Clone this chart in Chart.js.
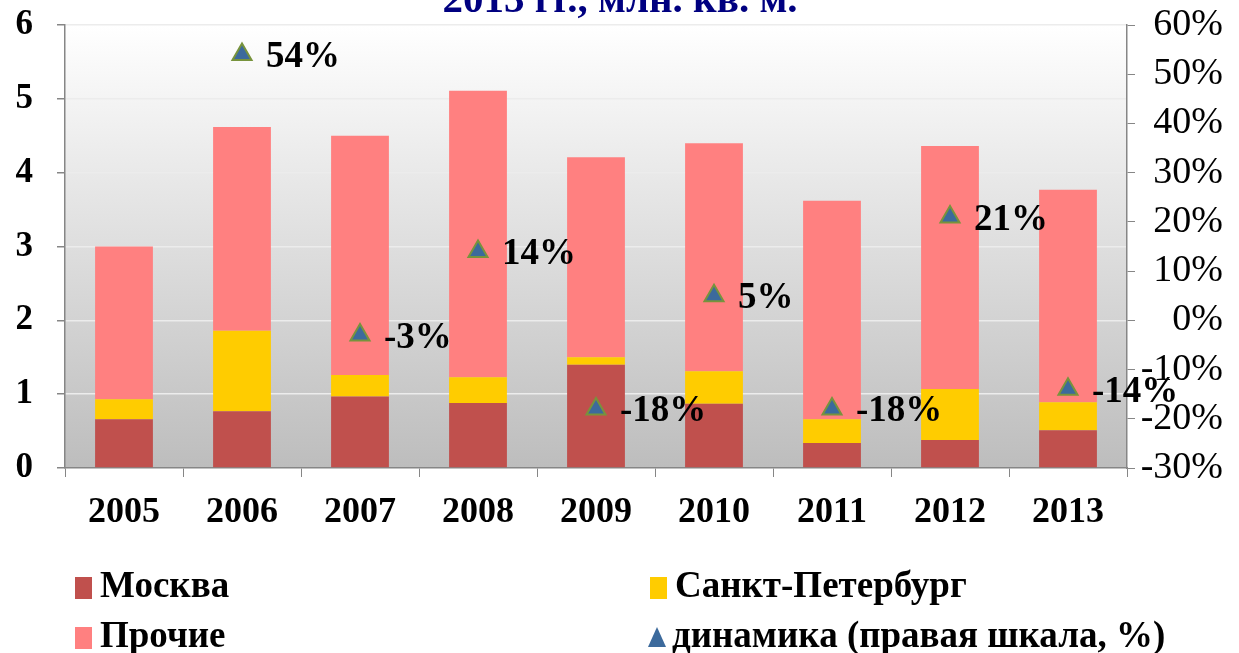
<!DOCTYPE html>
<html>
<head>
<meta charset="utf-8">
<script src="https://cdn.jsdelivr.net/npm/chart.js@4/dist/chart.umd.min.js"></script>
<style>
    body { margin: 0; background: #fff; }
    #wrap { position: relative; width: 1239px; height: 653px; overflow: hidden; }
    #legend { position: absolute; left: 0; top: 0; width: 1239px; height: 653px; pointer-events: none;
        font-family: "Liberation Serif", serif; font-weight: bold; font-size: 37px; color: #000; }
    .item { position: absolute; white-space: nowrap; line-height: 40px; }
    .box { display: inline-block; width: 17px; height: 22px; margin-right: 8px; vertical-align: -2px; }
    .tri { display: inline-block; width: 0; height: 0; margin-right: 6px; vertical-align: 0px;
        border-left: 9px solid transparent; border-right: 9px solid transparent; border-bottom: 20px solid #3C6A9C; }
</style>
</head>
<body>
<div id="wrap">
    <canvas id="chart" width="1239" height="653"></canvas>
    <div id="legend"></div>
</div>
<script>
var years = ["2005", "2006", "2007", "2008", "2009", "2010", "2011", "2012", "2013"];
var moscow = [0.66, 0.77, 0.97, 0.88, 1.40, 0.87, 0.34, 0.38, 0.51];
var spb = [0.27, 1.09, 0.29, 0.35, 0.10, 0.44, 0.32, 0.69, 0.38];
var others = [2.07, 2.76, 3.24, 3.88, 2.71, 3.09, 2.96, 3.29, 2.88];
var dynamics = [null, 54, -3, 14, -18, 5, -18, 21, -14];
var leftTicks = [0, 1, 2, 3, 4, 5, 6];
var rightTicks = [-30, -20, -10, 0, 10, 20, 30, 40, 50, 60];
var seriesNames = ["Москва", "Санкт-Петербург", "Прочие", "динамика (правая шкала, %)"];
var titleText = "2013 гг., млн. кв. м.";

var axisGray = "#868686";
var serif = "'Liberation Serif', 'Times New Roman', serif";

// gray gradient behind the plot
var plotBackground = {
    id: "plotBackground",
    beforeDraw: function(chart){
        var a = chart.chartArea, ctx = chart.ctx;
        var g = ctx.createLinearGradient(0, a.top, 0, a.bottom);
        g.addColorStop(0, "#ffffff");
        g.addColorStop(1, "#bdbdbd");
        ctx.save();
        ctx.fillStyle = g;
        ctx.fillRect(a.left, a.top, a.right - a.left, a.bottom - a.top);
        ctx.restore();
    },
    afterDraw: function(chart){
        // remains of the title, cut by the top edge
        var ctx = chart.ctx;
        ctx.save();
        ctx.font = "bold 41px " + serif;
        ctx.fillStyle = "#000080";
        ctx.textAlign = "center";
        ctx.textBaseline = "alphabetic";
        ctx.fillText(titleText, 620, 12);
        ctx.restore();
    }
};

var pointLabels = {
    id: "pointLabels",
    afterDatasetsDraw: function(chart){
        var ctx = chart.ctx;
        var meta = chart.getDatasetMeta(3);
        ctx.save();
        ctx.font = "bold 37px " + serif;
        ctx.fillStyle = "#000";
        ctx.textAlign = "left";
        ctx.textBaseline = "middle";
        meta.data.forEach(function(pt, i){
            if (dynamics[i] === null) return;
            ctx.fillText(dynamics[i] + "%", pt.x + 24, pt.y + 3);
        });
        ctx.restore();
    }
};

function noPadY(s, w){
    s.width = w;
    s.paddingTop = 0;
    s.paddingBottom = 0;
}

var data = {
    labels: years,
    datasets: [
        { type: "bar", label: seriesNames[0], data: moscow, backgroundColor: "#C0504D", yAxisID: "y", order: 1 },
        { type: "bar", label: seriesNames[1], data: spb, backgroundColor: "#FFCC00", yAxisID: "y", order: 1 },
        { type: "bar", label: seriesNames[2], data: others, backgroundColor: "#FF8080", yAxisID: "y", order: 1 },
        { type: "line", label: seriesNames[3], data: dynamics, yAxisID: "y1", order: 0,
          showLine: false, pointStyle: "triangle", pointRadius: 11, pointHoverRadius: 11,
          backgroundColor: "#3C6A9C", borderColor: "#77933C", pointBorderWidth: 2 }
    ]
};

var options = {
    responsive: false,
    animation: false,
    layout: { padding: { top: 25, left: 0, right: 16, bottom: 0 } },
    plugins: { legend: { display: false }, tooltip: { enabled: false } },
    datasets: { bar: { barPercentage: 0.49, categoryPercentage: 1 } },
    scales: {
        x: {
            stacked: true,
            afterFit: function(s){ s.height = 185; s.paddingLeft = 0; s.paddingRight = 0; },
            grid: { offset: true, drawOnChartArea: false, tickLength: 9, tickColor: axisGray },
            border: { color: axisGray, width: 1.5 },
            ticks: { color: "#000", padding: 14, font: { family: serif, size: 36, weight: "bold" } }
        },
        y: {
            stacked: true,
            min: 0, max: 6,
            afterFit: function(s){ noPadY(s, 65); },
            afterBuildTicks: function(s){ s.ticks = leftTicks.map(function(v){ return { value: v }; }); },
            grid: {
                color: function(c){ return c.tick && c.tick.value === 0 ? "rgba(0,0,0,0)" : "#ececec"; },
                lineWidth: 1.5, tickLength: 8, tickColor: axisGray
            },
            border: { color: axisGray, width: 1.5 },
            ticks: { color: "#000", padding: 24, autoSkip: false, font: { family: serif, size: 35, weight: "bold" } }
        },
        y1: {
            position: "right",
            min: -30, max: 60,
            afterFit: function(s){ noPadY(s, 96); },
            afterBuildTicks: function(s){ s.ticks = rightTicks.map(function(v){ return { value: v }; }); },
            grid: { drawOnChartArea: false, tickLength: 8, tickColor: axisGray },
            border: { color: axisGray, width: 1.5 },
            ticks: {
                color: "#000", padding: 4, crossAlign: "far", autoSkip: false, font: { family: serif, size: 38 },
                callback: function(v){ return v + "%"; }
            }
        }
    }
};

var ctx = document.getElementById("chart");
var chart = new Chart(ctx, { data: data, options: options, plugins: [plotBackground, pointLabels] });

// legend laid out in two columns like the original
function buildLegend(){
    var legend = document.getElementById("legend");
    var pos = [[75, 565], [650, 565], [75, 615], [648, 615]];
    var colors = ["#C0504D", "#FFCC00", "#FF8080", null];
    seriesNames.forEach(function(name, i){
        var el = document.createElement("div");
        el.className = "item";
        el.style.left = pos[i][0] + "px";
        el.style.top = pos[i][1] + "px";
        var mark = document.createElement("span");
        if (colors[i]){
            mark.className = "box";
            mark.style.background = colors[i];
        } else {
            mark.className = "tri";
        }
        el.appendChild(mark);
        el.appendChild(document.createTextNode(name));
        legend.appendChild(el);
    });
}
buildLegend();
</script>
</body>
</html>
